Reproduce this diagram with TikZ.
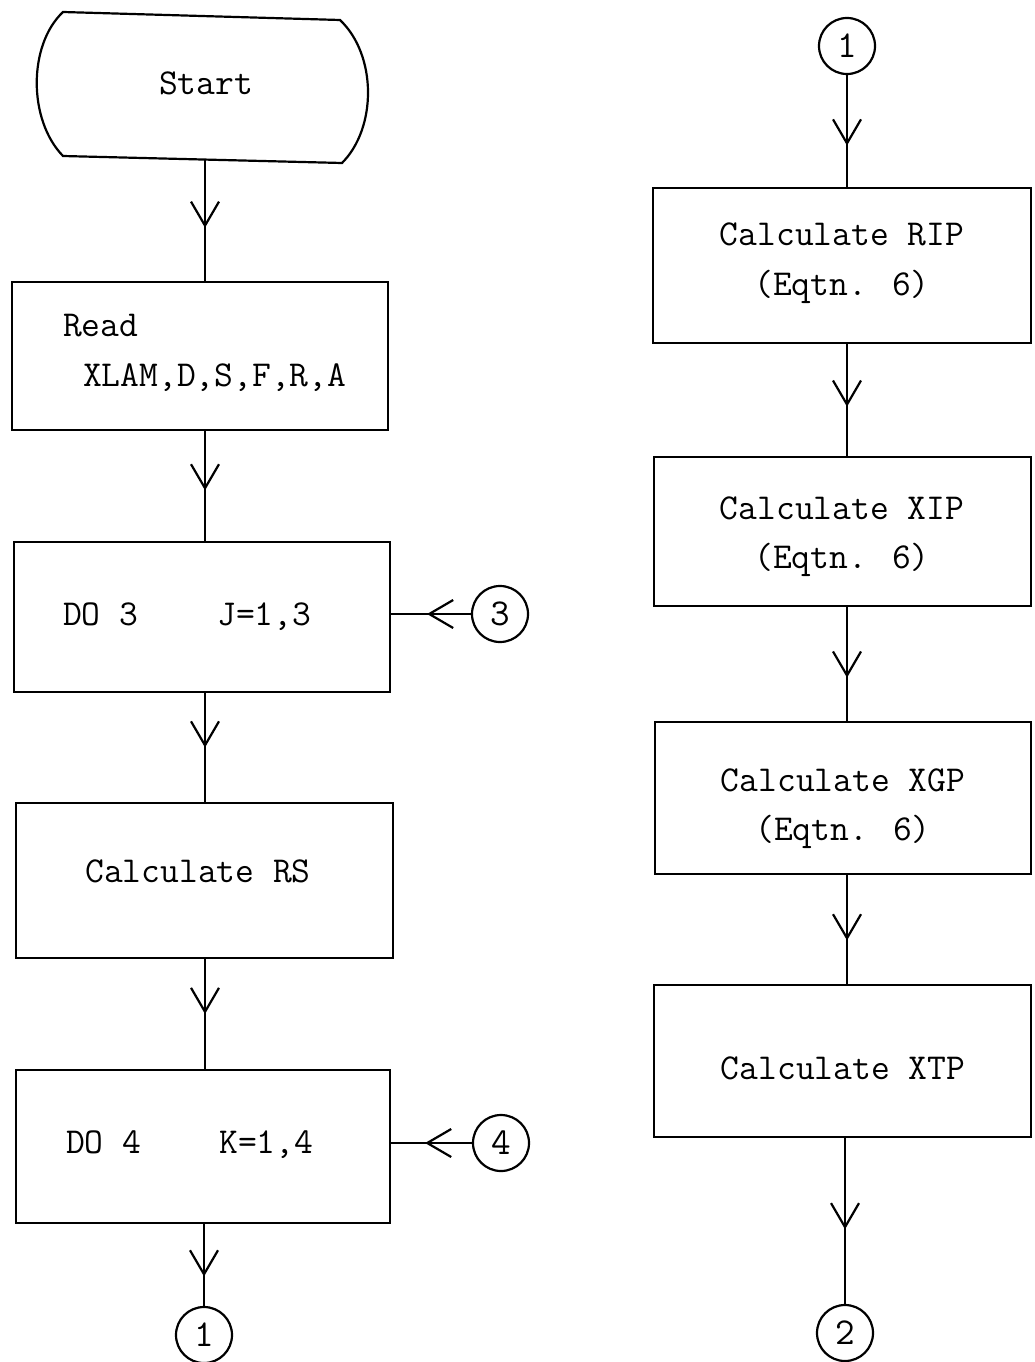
\documentclass[tikz,border=0pt]{standalone}
\usepackage{fontspec}
\usetikzlibrary{arrows.meta,decorations.markings}
\tikzset{
  x=1pt, y=-1pt,
  ln/.style={line width=2.2pt},
  box/.style={draw, ln, inner sep=0pt},
  conn/.style={draw, ln, circle, minimum size=56pt, inner sep=0pt, font=\ttfamily\fontsize{38}{38}\selectfont},
  txt/.style={inner sep=0pt, anchor=base, font=\ttfamily\fontsize{36.5}{36.5}\selectfont},
  ltxt/.style={txt, anchor=base west},
  flow/.style={ln, postaction={decorate}, decoration={markings,
      mark=at position #1 with {\arrow[line width=2.2pt]{Straight Barb[length=24pt,width=28pt]}}}}
}
\begin{document}
\begin{tikzpicture}
\useasboundingbox (0,0) rectangle (1034,1362);
\coordinate (lx) at (205,0);
\coordinate (rx) at (847,0);
% Start terminal
\node[minimum width=300pt, minimum height=146pt, inner sep=0pt] (start) at (205,87) {};
\draw[ln] (63,12) -- (340,20) .. controls (377,55) and (377,128) .. (342,163)
  -- (63,156) .. controls (28,120) and (28,45) .. (63,12) -- cycle;
\node[txt] (tstart) at (206,95) {Start};
% left boxes
\node[box, minimum width=376pt, minimum height=148pt] (read) at (200,356) {};
\node[ltxt] (tread1) at (63,336) {Read};
\node[ltxt] (tread2) at (83,386) {XLAM,D,S,F,R,A};
\node[box, minimum width=376pt, minimum height=150pt] (do3) at (202,617) {};
\node[ltxt] (tdo3a) at (63,625) {DO 3};
\node[ltxt] (tdo3b) at (217,625) {J=1,3};
\node[box, minimum width=377pt, minimum height=155pt] (rs) at (204.5,880.5) {};
\node[txt] (trs) at (198,882) {Calculate RS};
\node[box, minimum width=374pt, minimum height=153pt] (do4) at (203,1146.5) {};
\node[ltxt] (tdo4a) at (66,1153) {DO 4};
\node[ltxt] (tdo4b) at (219,1153) {K=1,4};
% left connectors
\node[conn] (c3) at (500,614) {3};
\node[conn] (c4) at (501,1143) {4};
\node[conn] (c1l) at (204,1335) {1};
% right column
\node[conn] (c1r) at (847,46) {1};
\node[box, minimum width=378pt, minimum height=155pt] (rip) at (842,265.5) {};
\node[txt] (trip1) at (842,245) {Calculate RIP};
\node[txt] (trip2) at (842,295) {(Eqtn. 6)};
\node[box, minimum width=377pt, minimum height=149pt] (xip) at (842.5,531.5) {};
\node[txt] (txip1) at (842,519) {Calculate XIP};
\node[txt] (txip2) at (842,568) {(Eqtn. 6)};
\node[box, minimum width=376pt, minimum height=152pt] (xgp) at (843,798) {};
\node[txt] (txgp1) at (843,791) {Calculate XGP};
\node[txt] (txgp2) at (843,840) {(Eqtn. 6)};
\node[box, minimum width=377pt, minimum height=152pt] (xtp) at (842.5,1061) {};
\node[txt] (txtp) at (843,1079) {Calculate XTP};
\node[conn] (c2) at (845,1333) {2};
% flow lines left
\draw[flow=0.56] (start.south -| lx) -- (read.north -| lx);
\draw[flow=0.54] (read.south -| lx) -- (do3.north -| lx);
\draw[flow=0.5] (do3.south -| lx) -- (rs.north -| lx);
\draw[flow=0.5] (rs.south -| lx) -- (do4.north -| lx);
\draw[flow=0.64] (do4.south -| c1l) -- (c1l.north);
\draw[flow=0.55] (c3.west) -- (c3.west -| do3.east);
\draw[flow=0.58] (c4.west) -- (c4.west -| do4.east);
% flow lines right
\draw[flow=0.63] (c1r.south) -- (rip.north -| c1r);
\draw[flow=0.56] (rip.south -| rx) -- (xip.north -| rx);
\draw[flow=0.62] (xip.south -| rx) -- (xgp.north -| rx);
\draw[flow=0.6] (xgp.south -| rx) -- (xtp.north -| rx);
\draw[flow=0.55] (xtp.south -| c2) -- (c2.north);
\end{tikzpicture}
\end{document}
